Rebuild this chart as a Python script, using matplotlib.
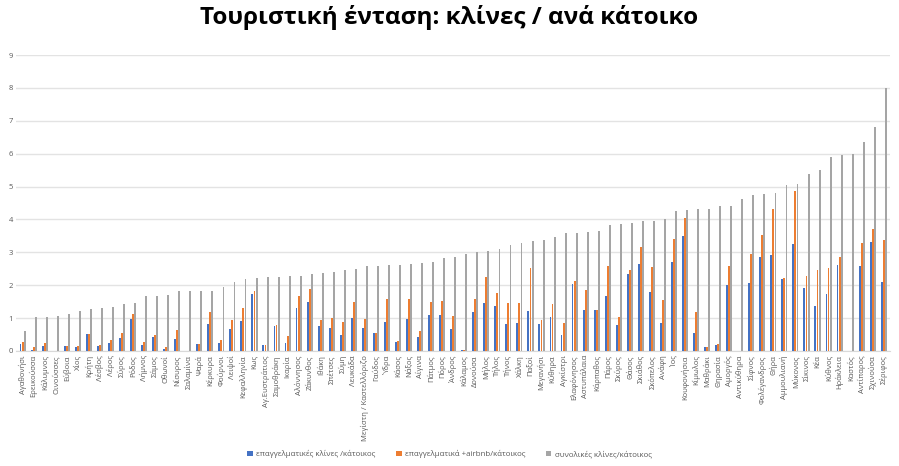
import numpy as np
import matplotlib
matplotlib.use("Agg")
import matplotlib.pyplot as plt

plt.rcParams["font.family"] = ["Open Sans", "DejaVu Sans"]

islands = [
    "Αγαθονήσι", "Ερεικούσσα", "Κάλυμνος", "Οινούσσες", "Εύβοια", "Χίος", "Κρήτη",
    "Λέσβος", "Λέρος", "Σύρος", "Ρόδος", "Λήμνος", "Σάμος", "Οθωνοί", "Νίσυρος",
    "Σαλαμίνα", "Ψαρά", "Κέρκυρα", "Φούρνοι", "Λειψοί", "Κεφαλληνία", "Κως",
    "Αγ.Ευστράτιος", "Σαμοθράκη", "Ικαρία", "Αλόννησος", "Ζάκυνθος", "Ιθάκη",
    "Σπέτσες", "Σύμη", "Λευκάδα", "Μεγίστη / Καστελλόριζο", "Γαύδος", "Ύδρα",
    "Κάσος", "Νάξος", "Αίγινα", "Πάτμος", "Πόρος", "Άνδρος", "Κάλαμος", "Δονούσα",
    "Μήλος", "Τήλος", "Τήνος", "Χάλκη", "Παξοί", "Μεγανήσι", "Κύθηρα", "Αγκίστρι",
    "Ελαφόνησος", "Αστυπάλαια", "Κάρπαθος", "Πάρος", "Σκύρος", "Θάσος", "Σκιάθος",
    "Σκόπελος", "Ανάφη", "Ίος", "Κουφονήσια", "Κίμωλος", "Μαθράκι", "Θηρασία",
    "Αμοργός", "Αντικύθηρα", "Σίφνος", "Φολέγανδρος", "Θήρα", "Αμμουλιανή",
    "Μύκονος", "Σίκινος", "Κέα", "Κύθνος", "Ηράκλεια", "Καστός", "Αντίπαρος",
    "Σχινούσα", "Σέριφος",
]

# επαγγελματικές κλίνες / κάτοικος
professional = [
    0.20, 0.04, 0.16, 0.00, 0.15, 0.12, 0.52, 0.14, 0.25, 0.40, 0.96, 0.19, 0.44,
    0.07, 0.35, 0.00, 0.20, 0.82, 0.25, 0.68, 0.90, 1.72, 0.17, 0.76, 0.25, 1.31,
    1.48, 0.77, 0.69, 0.49, 0.99, 0.70, 0.54, 0.88, 0.27, 0.97, 0.43, 1.08, 1.10,
    0.67, 0.04, 1.19, 1.47, 1.36, 0.82, 0.85, 1.23, 0.83, 1.02, 0.49, 2.04, 1.24,
    1.24, 1.67, 0.78, 2.34, 2.66, 1.78, 0.86, 2.70, 3.50, 0.55, 0.11, 0.17, 2.00,
    0.00, 2.07, 2.87, 2.93, 2.19, 3.26, 1.92, 1.37, 1.73, 2.62, 0.00, 2.59, 3.31,
    2.11,
]

# επαγγελματικά + airbnb / κάτοικος
with_airbnb = [
    0.28, 0.12, 0.25, 0.01, 0.15, 0.15, 0.52, 0.17, 0.33, 0.56, 1.13, 0.28, 0.50,
    0.12, 0.64, 0.00, 0.20, 1.20, 0.32, 0.93, 1.30, 1.82, 0.17, 0.79, 0.47, 1.68,
    1.88, 0.94, 1.01, 0.87, 1.48, 0.98, 0.54, 1.59, 0.30, 1.59, 0.61, 1.48, 1.51,
    1.07, 0.03, 1.58, 2.25, 1.76, 1.46, 1.46, 2.52, 0.95, 1.43, 0.85, 2.13, 1.84,
    1.24, 2.59, 1.04, 2.47, 3.16, 2.54, 1.56, 3.41, 4.05, 1.18, 0.11, 0.22, 2.60,
    0.00, 2.96, 3.52, 4.32, 2.23, 4.88, 2.29, 2.45, 2.53, 2.87, 0.00, 3.29, 3.70,
    3.38,
]

# συνολικές κλίνες / κάτοικος
total = [
    0.61, 1.02, 1.04, 1.07, 1.14, 1.22, 1.29, 1.31, 1.34, 1.43, 1.46, 1.67, 1.67,
    1.71, 1.82, 1.82, 1.82, 1.82, 1.94, 2.10, 2.20, 2.22, 2.25, 2.26, 2.28, 2.29,
    2.33, 2.37, 2.39, 2.46, 2.48, 2.58, 2.59, 2.61, 2.63, 2.66, 2.68, 2.70, 2.84,
    2.85, 2.94, 3.01, 3.04, 3.09, 3.23, 3.27, 3.34, 3.39, 3.47, 3.59, 3.59, 3.63,
    3.65, 3.84, 3.86, 3.88, 3.94, 3.95, 4.00, 4.26, 4.30, 4.32, 4.32, 4.42, 4.42,
    4.62, 4.73, 4.79, 4.82, 5.04, 5.07, 5.38, 5.49, 5.90, 5.95, 6.00, 6.37, 6.82,
    8.00,
]

labels = [
    "επαγγελματικές κλίνες /κάτοικος",
    "επαγγελματικά +airbnb/κάτοικος",
    "συνολικές κλίνες/κάτοικος",
]
colors = ["#4472C4", "#ED7D31", "#A5A5A5"]

fig = plt.figure(figsize=(8.99, 4.66), dpi=100)
ax = fig.add_axes([0.0178, 0.2468, 0.972, 0.635])

x = np.arange(len(islands))
w = 0.17
for i, (vals, lab, col) in enumerate(zip([professional, with_airbnb, total], labels, colors)):
    ax.bar(x + (i - 1) * 0.19, vals, width=w, color=col, label=lab, zorder=3)

ax.set_xlim(-0.6, len(islands) - 0.45)
ax.set_ylim(0, 9)
ax.set_yticks(range(10))
ax.grid(axis="y", color="#e3e3e3", linewidth=1.0, zorder=0)
for s in ["top", "right", "left"]:
    ax.spines[s].set_visible(False)
ax.spines["bottom"].set_color("#d9d9d9")
ax.set_xticks(x)
ax.set_xticklabels(islands, rotation=90, fontsize=5.5, color="#595959")
ax.tick_params(axis="both", length=0, pad=3)
ax.tick_params(axis="y", labelsize=5.5, labelcolor="#595959", pad=2)

fig.text(0.5, 0.963, "Τουριστική ένταση: κλίνες / ανά κάτοικο", ha="center", va="center",
         fontsize=17.5, fontweight="bold", color="black")

fig.legend(loc="center", bbox_to_anchor=(0.5, 0.025), ncol=3, frameon=False,
           fontsize=5.7, handlelength=0.7, handleheight=0.7, columnspacing=2.6,
           handletextpad=0.4, labelcolor="#595959")

fig.savefig("out.png", dpi=100)
